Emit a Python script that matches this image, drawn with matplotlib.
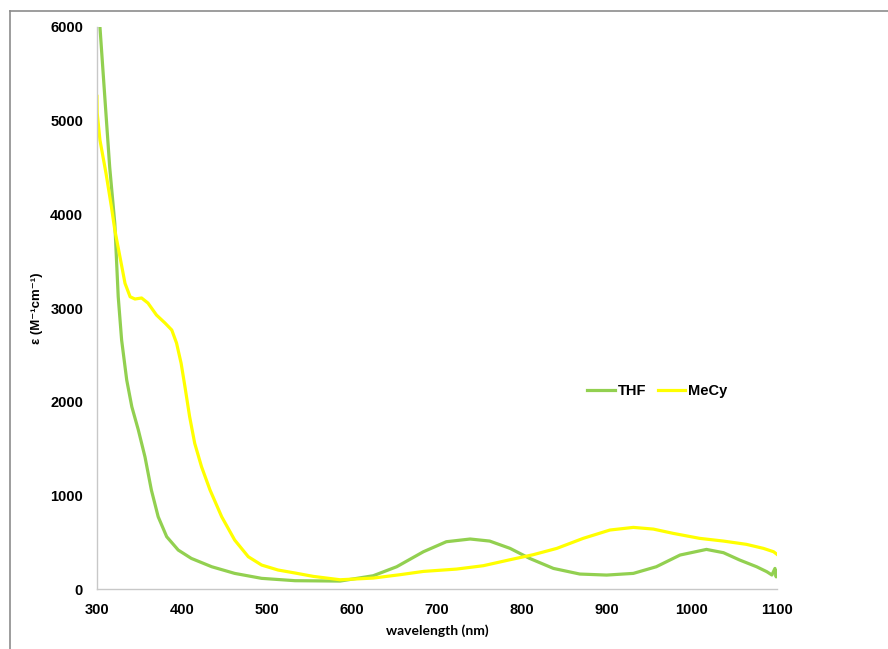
import matplotlib
matplotlib.use("Agg")
import matplotlib.pyplot as plt
from matplotlib.lines import Line2D

plt.rcParams["font.family"] = ["Liberation Sans", "DejaVu Sans"]

# THF spectrum
thf_wl = [302, 303.5, 310, 315, 321, 325, 329, 335, 341, 348.6, 356.5, 364,
          372, 382, 395.6, 411, 435, 462, 493.7, 533, 586, 625, 652.6, 684,
          711, 739, 762, 786, 809, 837, 868, 899.6, 931, 958, 986, 1017,
          1037, 1056, 1076, 1088, 1094, 1097.6, 1099, 1100]
thf_eps = [6150, 6000, 5150, 4500, 3900, 3120, 2658, 2231, 1946, 1700, 1410,
           1057, 772, 559, 416, 327, 238, 167, 114, 89, 85, 142, 238, 398,
           505, 534, 512, 434, 327, 220, 160, 149, 167, 238, 363, 423, 388,
           310, 238, 185, 150, 220, 130, 190]

# MeCy spectrum
mecy_wl = [300, 300.3, 303.5, 310.6, 317, 321, 327, 333, 339, 344.7, 352.5,
           360, 370, 380, 388, 393.6, 399, 403.5, 409, 415, 423, 433, 446.7,
           462, 478, 493.7, 513, 533, 554.5, 586, 625, 656.5, 684, 723, 754.5,
           786, 813, 841, 872, 903.5, 931, 954.5, 978, 1009, 1037, 1064, 1084,
           1096, 1100]
mecy_eps = [5260, 5080, 4793, 4440, 4080, 3833, 3548, 3263, 3120, 3096, 3107,
            3053, 2925, 2840, 2765, 2626, 2410, 2160, 1840, 1555, 1306, 1057,
            772, 523, 345, 256, 203, 171, 135, 99, 117, 153, 188, 213, 249,
            313, 366, 434, 541, 630, 658, 640, 594, 541, 512, 477, 434, 398,
            370]

x_ticks = list(range(300, 1101, 100))
y_ticks = list(range(0, 6001, 1000))

fig = plt.figure(figsize=(8.88, 6.49), dpi=100)
ax = fig.add_axes([0.1092, 0.0924, 0.7658, 0.866])

ax.plot(thf_wl, thf_eps, color="#92d050", lw=2.3, label="THF")
ax.plot(mecy_wl, mecy_eps, color="#ffff00", lw=2.3, label="MeCy")

ax.set_xlim(300, 1100)
ax.set_ylim(0, 6000)
ax.set_xticks(x_ticks)
ax.set_yticks(y_ticks)
ax.tick_params(length=0, labelsize=10.5, pad=10)
for lab in ax.get_xticklabels() + ax.get_yticklabels():
    lab.set_fontweight("bold")

for side in ("top", "right"):
    ax.spines[side].set_visible(False)
for side in ("left", "bottom"):
    ax.spines[side].set_color("#c8c8c8")
    ax.spines[side].set_linewidth(1.0)

ax.set_xlabel("wavelength (nm)", fontsize=10, fontweight="bold",
              family=["Lato", "DejaVu Sans"], labelpad=5)
ax.set_ylabel("ε (M⁻¹cm⁻¹)", fontsize=9.5, fontweight="bold", labelpad=5)

ax.legend(loc="center", bbox_to_anchor=(0.824, 0.352), ncol=2, frameon=False,
          prop={"weight": "bold", "size": 10.5}, handlelength=1.9,
          handletextpad=0.2, columnspacing=0.8)

# outer chart frame (left and top edges visible)
x0 = 10 / 888
y0 = 1 - 11 / 649
fig.add_artist(Line2D([x0, x0], [0, y0], transform=fig.transFigure,
                      color="#8c8c8c", lw=1.2))
fig.add_artist(Line2D([x0, 1], [y0, y0], transform=fig.transFigure,
                      color="#8c8c8c", lw=1.2))

fig.savefig("out.png", dpi=100)
